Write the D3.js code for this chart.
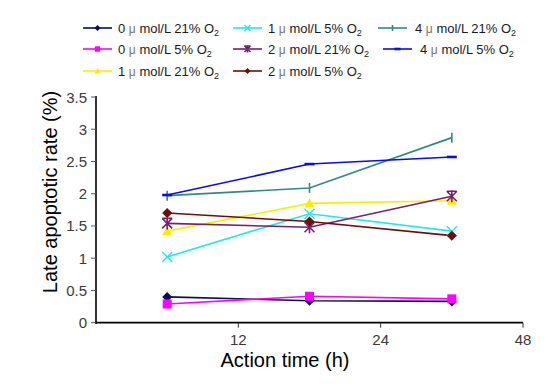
<!DOCTYPE html>
<html>
<head>
<meta charset="utf-8">
<script src="https://cdn.jsdelivr.net/npm/d3@7/dist/d3.min.js"></script>
<style>
  body { margin: 0; background: #fff; }
  svg { display: block; font-family: Arial, "Liberation Sans", sans-serif; }
</style>
</head>
<body>
<svg id="chart" width="559" height="390"></svg>
<script>
// ── Data ──
// x bands end at the tick labels; points sit in the middle of each band
const xBands = ["12", "24", "48"];
const yTicks = [0, 0.5, 1, 1.5, 2, 2.5, 3, 3.5];

const dose   = ["0", "0", "1", "1", "2", "2", "4", "4"];
const oxygen = ["21%", "5%", "21%", "5%", "21%", "5%", "21%", "5%"];

const s0_21 = [0.40, 0.34, 0.33];
const s0_5  = [0.29, 0.41, 0.37];
const s1_21 = [1.42, 1.85, 1.89];
const s1_5  = [1.02, 1.69, 1.42];
const s2_21 = [1.54, 1.48, 1.96];
const s2_5  = [1.70, 1.57, 1.35];
const s4_21 = [1.97, 2.09, 2.87];
const s4_5  = [1.98, 2.46, 2.57];

const series = [
  { vals: s0_21, color: "#0c0c5c", marker: "diamond" },
  { vals: s0_5,  color: "#ff00ff", marker: "square" },
  { vals: s1_21, color: "#f6f000", marker: "triangle" },
  { vals: s1_5,  color: "#22e8e8", marker: "cross" },
  { vals: s2_21, color: "#74206e", marker: "asterisk" },
  { vals: s2_5,  color: "#700c0c", marker: "diamond" },
  { vals: s4_21, color: "#2f8a84", marker: "plus" },
  { vals: s4_5,  color: "#0a0af0", marker: "dash" }
];
series.forEach((s, i) => { s.dose = dose[i]; s.o2 = oxygen[i]; });

// ── Layout ──
const svg = d3.select("#chart");
const pLeft = 96, pRight = 523, pTop = 97, pBottom = 322.7;

const x = d3.scaleBand().domain(xBands).range([pLeft, pRight]).paddingInner(0).paddingOuter(0);
const xc = i => x(xBands[i]) + x.bandwidth() / 2;
const y = d3.scaleLinear().domain([0, 3.5]).range([pBottom, pTop]);

// ── Axes ──
svg.append("line").attr("x1", pLeft).attr("x2", pLeft)
  .attr("y1", pTop - 1).attr("y2", pBottom + 1)
  .attr("stroke", "#000").attr("stroke-width", 1.6);
svg.append("line").attr("x1", pLeft - 1).attr("x2", pRight)
  .attr("y1", pBottom).attr("y2", pBottom)
  .attr("stroke", "#000").attr("stroke-width", 1.8);

const yg = svg.append("g");
yg.selectAll("line").data(yTicks).join("line")
  .attr("x1", pLeft - 5).attr("x2", pLeft)
  .attr("y1", d => y(d)).attr("y2", d => y(d))
  .attr("stroke", "#555").attr("stroke-width", 1);
yg.selectAll("text").data(yTicks).join("text")
  .attr("x", pLeft - 9).attr("y", d => y(d) + 5.5)
  .attr("text-anchor", "end").attr("font-size", 15).attr("fill", "#3a3a3a")
  .text(d => d);

const xg = svg.append("g");
xg.selectAll("line").data(xBands).join("line")
  .attr("x1", d => x(d) + x.bandwidth()).attr("x2", d => x(d) + x.bandwidth())
  .attr("y1", pBottom).attr("y2", pBottom + 5)
  .attr("stroke", "#333").attr("stroke-width", 1);
xg.selectAll("text").data(xBands).join("text")
  .attr("x", d => x(d) + x.bandwidth()).attr("y", pBottom + 22)
  .attr("text-anchor", "middle").attr("font-size", 15).attr("fill", "#3a3a3a")
  .text(d => d);

svg.append("text")
  .attr("x", 285).attr("y", 367)
  .attr("text-anchor", "middle").attr("font-size", 20).attr("fill", "#000")
  .text("Action time (h)");
svg.append("text")
  .attr("transform", "translate(57,192) rotate(-90)")
  .attr("text-anchor", "middle").attr("font-size", 20).attr("fill", "#000")
  .text("Late apoptotic rate (%)");

// ── Marker helper ──
function drawMarker(g, kind, cx, cy, color, s) {
  if (kind === "diamond") {
    g.append("path").attr("d", `M${cx},${cy - s}L${cx + s},${cy}L${cx},${cy + s}L${cx - s},${cy}Z`).attr("fill", color);
  } else if (kind === "square") {
    g.append("rect").attr("x", cx - s * 0.9).attr("y", cy - s * 0.9)
      .attr("width", s * 1.8).attr("height", s * 1.8).attr("fill", color);
  } else if (kind === "triangle") {
    g.append("path").attr("d", `M${cx},${cy - s * 1.1}L${cx + s},${cy + s * 0.8}L${cx - s},${cy + s * 0.8}Z`).attr("fill", color);
  } else if (kind === "cross") {
    g.append("path").attr("d", `M${cx - s},${cy - s}L${cx + s},${cy + s}M${cx - s},${cy + s}L${cx + s},${cy - s}`)
      .attr("stroke", color).attr("stroke-width", 1.4);
  } else if (kind === "asterisk") {
    g.append("path").attr("d", `M${cx - s},${cy - s}L${cx + s},${cy + s}M${cx - s},${cy + s}L${cx + s},${cy - s}M${cx},${cy - s * 1.2}L${cx},${cy + s * 1.2}M${cx - s},${cy - s}L${cx + s},${cy - s}`)
      .attr("stroke", color).attr("stroke-width", 1.6);
  } else if (kind === "plus") {
    g.append("path").attr("d", `M${cx},${cy - s}L${cx},${cy + s}`)
      .attr("stroke", color).attr("stroke-width", 1.6);
  } else if (kind === "dash") {
    g.append("path").attr("d", `M${cx - s},${cy}L${cx + s},${cy}`)
      .attr("stroke", color).attr("stroke-width", 2.6);
  }
}

// ── Lines & markers ──
const line = d3.line().x((d, i) => xc(i)).y(d => y(d));
const plot = svg.append("g");
series.forEach(s => {
  plot.append("path").attr("d", line(s.vals))
    .attr("fill", "none").attr("stroke", s.color).attr("stroke-width", 1.6);
});
series.forEach(s => {
  s.vals.forEach((v, i) => drawMarker(plot, s.marker, xc(i), y(v), s.color, 5));
});

// ── Legend (3 columns, filled top to bottom) ──
const colX = [83, 233, 378];
const rowY = [28, 49, 71];
const lg = svg.append("g");
series.forEach((s, k) => {
  const col = Math.floor(k / 3), row = k % 3;
  const lx = colX[col] + (k === 7 ? 5 : 0);
  const ly = rowY[row];
  const len = 29;
  lg.append("line").attr("x1", lx).attr("x2", lx + len)
    .attr("y1", ly).attr("y2", ly)
    .attr("stroke", s.color).attr("stroke-width", 1.6);
  drawMarker(lg, s.marker, lx + len / 2, ly, s.color, 3);
  const tx = lx + len + (col === 2 ? 8 : 6);
  const t = lg.append("text").attr("x", tx).attr("y", ly + 4.5)
    .attr("font-size", 13).attr("fill", "#1a1a1a");
  t.append("tspan").text(s.dose + " ");
  t.append("tspan").attr("fill", "#777").attr("font-size", 12).text("\u03bc");
  t.append("tspan").text(" mol/L " + s.o2 + " O");
  t.append("tspan").attr("font-size", 9).attr("dy", 3).text("2");
});
</script>
</body>
</html>
